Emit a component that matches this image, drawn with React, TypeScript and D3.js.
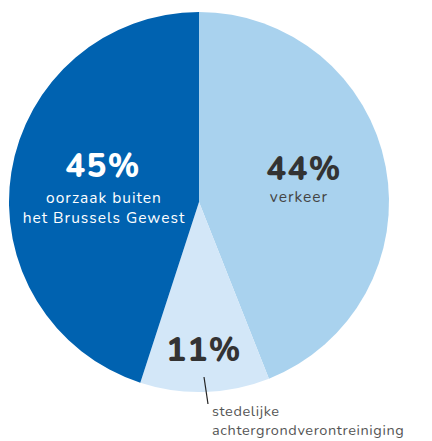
import * as d3 from 'd3';
import React, { useEffect, useRef } from 'react';

const labels = ['verkeer', 'stedelijke achtergrondverontreiniging', 'oorzaak buiten het Brussels Gewest'];
const values = [44, 11, 45];
const colors = ['#a9d2ee', '#d3e7f8', '#0062b0'];

function PieChart() {
  const svgRef = useRef<SVGSVGElement>(null);

  useEffect(() => {
    const w = 432;
    const h = 441;
    const cx = 199;
    const cy = 202;
    const r = 190;
    const font = "'Nunito', 'Lato', 'Noto Sans', sans-serif";

    const svg = d3.select(svgRef.current).attr('width', w).attr('height', h);
    svg.selectAll('*').remove();

    const pie = d3.pie<number>().sort(null).value((d) => d);
    const arc = d3.arc<d3.PieArcDatum<number>>().innerRadius(0).outerRadius(r);

    const g = svg.append('g').attr('transform', `translate(${cx},${cy})`);
    g.selectAll('path')
      .data(pie(values))
      .join('path')
      .attr('d', arc)
      .attr('fill', (d, i) => colors[i]);

    // big percentages
    const big = [
      { x: 304, y: 180, fill: '#333333' },
      { x: 204, y: 361, fill: '#333333' },
      { x: 103, y: 177, fill: '#ffffff' },
    ];
    svg
      .selectAll('.pct')
      .data(values)
      .join('text')
      .attr('class', 'pct')
      .attr('x', (d, i) => big[i].x)
      .attr('y', (d, i) => big[i].y)
      .attr('text-anchor', 'middle')
      .attr('font-family', font)
      .attr('font-weight', 800)
      .attr('font-size', 33)
      .attr('letter-spacing', 1.5)
      .attr('fill', (d, i) => big[i].fill)
      .text((d) => `${d}%`);

    const sub = (lines: string[], x: number, y: number, anchor: string, fill: string, size: number, ls: number, lh: number) => {
      const t = svg
        .append('text')
        .attr('font-family', font)
        .attr('font-size', size)
        .attr('letter-spacing', ls)
        .attr('text-anchor', anchor)
        .attr('fill', fill);
      lines.forEach((l, i) => {
        t.append('tspan').attr('x', x).attr('y', y + i * lh).text(l);
      });
    };

    sub([labels[0]], 299, 202, 'middle', '#444444', 15.5, 1, 20);
    sub(['oorzaak buiten', 'het Brussels Gewest'], 104, 203, 'middle', '#ffffff', 15.5, 1, 20);
    sub(['stedelijke', 'achtergrondverontreiniging'], 212, 416, 'start', '#555555', 14.5, 0.6, 19);

    svg
      .append('line')
      .attr('x1', 204)
      .attr('y1', 377)
      .attr('x2', 208)
      .attr('y2', 404)
      .attr('stroke', '#222')
      .attr('stroke-width', 1.2);
  }, []);

  return <svg ref={svgRef} style={{ display: 'block', position: 'absolute', left: 0, top: 0 }} />;
}

export default function App() {
  return <PieChart />;
}
